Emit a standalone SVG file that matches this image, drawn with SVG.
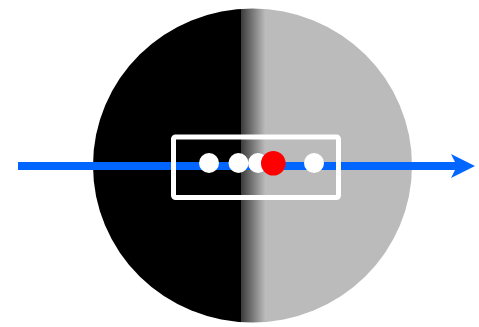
<svg xmlns="http://www.w3.org/2000/svg" width="479" height="327" viewBox="0 0 479 327">
<defs>
<linearGradient id="half" gradientUnits="userSpaceOnUse" x1="93" y1="0" x2="412" y2="0">
<stop offset="0" stop-color="#000"/>
<stop offset="0.4645" stop-color="#000"/>
<stop offset="0.4646" stop-color="#3c3c3c"/>
<stop offset="0.54" stop-color="#bbbbbb"/>
<stop offset="1" stop-color="#bbbbbb"/>
</linearGradient>
<style>
.dot{fill:#fff}
</style>
</defs>
<rect width="479" height="327" fill="#fff"/>
<g id="disk">
<ellipse cx="252.5" cy="165.5" rx="159.5" ry="157" fill="url(#half)"/>
</g>
<g id="connectors">
<line x1="18" y1="166" x2="458" y2="166" stroke="#0066ff" stroke-width="8"/>
<path d="M451,154 L475,166 L451,178 L457,166 Z" fill="#0066ff"/>
</g>
<g id="box">
<rect x="173.5" y="137" width="165" height="60.5" rx="2" fill="none" stroke="#fff" stroke-width="5"/>
</g>
<g id="dots">
<circle class="dot" cx="209" cy="163" r="10"/>
<circle class="dot" cx="238.5" cy="163" r="10"/>
<circle class="dot" cx="258" cy="163" r="10"/>
<circle cx="273.3" cy="163.3" r="12.3" fill="#ff0000"/>
<circle class="dot" cx="314" cy="163" r="10"/>
</g>
</svg>
